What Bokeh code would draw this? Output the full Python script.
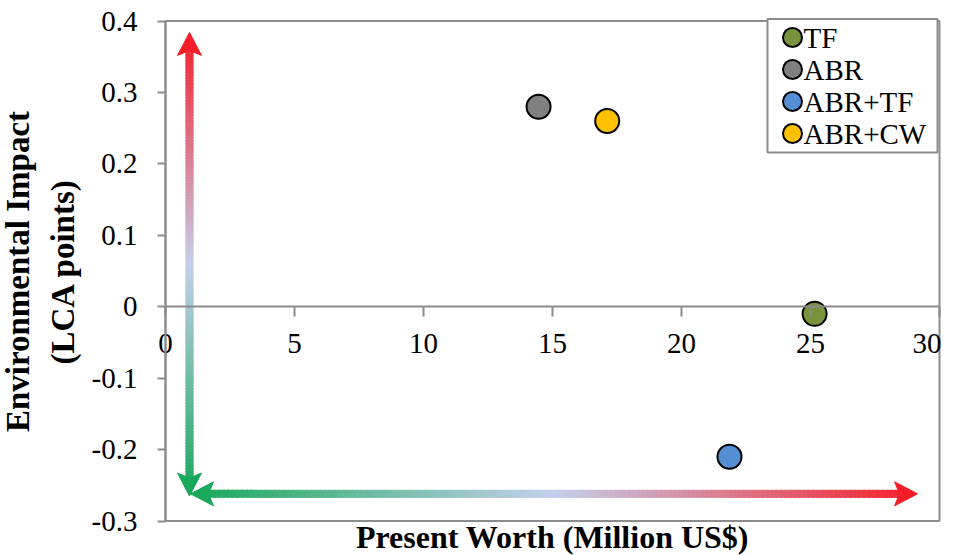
import numpy as np
from bokeh.plotting import figure
from bokeh.models import Range1d, FixedTicker, Label
from bokeh.core.properties import value
from bokeh.embed import file_html
from bokeh.resources import INLINE

# ---- data ----
SERIES = ["TF", "ABR", "ABR+TF", "ABR+CW"]
PRESENT_WORTH = [25.16, 14.46, 21.86, 17.12]
ENV_IMPACT = [-0.01, 0.28, -0.21, 0.26]
COLORS = ["#77933C", "#808080", "#558ED5", "#FFC000"]
X_TICKS = [0, 5, 10, 15, 20, 25, 30]
X_TICK_LABELS = ["0", "5", "10", "15", "20", "25", "30"]
Y_TICKS = [-0.3, -0.2, -0.1, 0, 0.1, 0.2, 0.3, 0.4]
Y_TICK_LABELS = ["-0.3", "-0.2", "-0.1", "0", "0.1", "0.2", "0.3", "0.4"]
X_TITLE = "Present Worth (Million US$)"
Y_TITLE = "Environmental Impact\n(LCA points)"
XMIN, XMAX, YMIN, YMAX = 0, 30, -0.3, 0.4

# ---- layout (pixels) ----
W, H = 941, 555
BOX_L, BOX_R, BOX_T, BOX_B = 165, 939, 20.5, 520.5
XPX = (BOX_R - BOX_L) / (XMAX - XMIN)
YPX = (BOX_B - BOX_T) / (YMAX - YMIN)


def px_x(px):
    return XMIN + (px - BOX_L) / XPX


def px_y(py):
    return YMAX - (py - BOX_T) / YPX


FONT = "Liberation Serif"
AXIS_GREY = "#8c8c8c"

# ---- decoration (gradient arrows, in data units) ----
V_ARROW_X = 0.93
V_ARROW_Y = (-0.265, 0.384)
H_ARROW_Y = -0.262
H_ARROW_X = (0.97, 29.15)
GREEN = (24, 168, 90)
MID = (196, 208, 236)
RED = (245, 30, 40)
HEAD_LEN, HEAD_W, NOTCH = 23, 24, 18
SHAFT_W = 8
N = 150

p = figure(width=W, height=H, output_backend="svg", toolbar_location=None,
           x_range=Range1d(px_x(0), px_x(W)), y_range=Range1d(px_y(H), px_y(0)),
           min_border=0)
p.xgrid.visible = False
p.ygrid.visible = False
p.outline_line_color = None
p.background_fill_color = "white"
p.border_fill_color = "white"

# plot-area box
p.quad(left=[XMIN], right=[XMAX], bottom=[YMIN], top=[YMAX], fill_alpha=0,
       line_color=AXIS_GREY, line_width=2)


def hexc(rgb):
    return "#%02x%02x%02x" % rgb


def lerp_color(t):
    if t < 0.5:
        a, b, u = GREEN, MID, t / 0.5
    else:
        a, b, u = MID, RED, (t - 0.5) / 0.5
    return hexc(tuple(int(round(a[i] + (b[i] - a[i]) * u)) for i in range(3)))


def gradient_arrow(xa, ya, xb, yb):
    # a: green end, b: red end (data coords)
    dxp, dyp = (xb - xa) * XPX, -(yb - ya) * YPX
    L = np.hypot(dxp, dyp)
    ux, uy = dxp / L, dyp / L          # pixel-space unit vector a->b
    # shaft
    ts = np.linspace(NOTCH / L, 1 - NOTCH / L, N + 1)
    step = ts[1] - ts[0]
    t0 = ts[:-1]
    t1 = ts[1:] + step * 0.6
    t1[-1] = ts[-1]
    xs0 = xa + (xb - xa) * t0
    ys0 = ya + (yb - ya) * t0
    xs1 = xa + (xb - xa) * t1
    ys1 = ya + (yb - ya) * t1
    cols = [lerp_color(t) for t in (t0 + step / 2)]
    p.segment(x0=list(xs0), y0=list(ys0), x1=list(xs1), y1=list(ys1),
              line_width=SHAFT_W, line_color=cols, line_cap="butt")
    # heads
    hx, hy = [], []
    for (tx, ty, sx, sy) in ((xb, yb, ux, uy), (xa, ya, -ux, -uy)):
        pts = [(0, 0),
               (-HEAD_LEN * sx + HEAD_W / 2 * -sy, -HEAD_LEN * sy + HEAD_W / 2 * sx),
               (-NOTCH * sx, -NOTCH * sy),
               (-HEAD_LEN * sx - HEAD_W / 2 * -sy, -HEAD_LEN * sy - HEAD_W / 2 * sx)]
        hx.append([tx + ox / XPX for ox, oy in pts])
        hy.append([ty - oy / YPX for ox, oy in pts])
    p.patches(xs=hx, ys=hy, fill_color=[hexc(RED), hexc(GREEN)],
              line_color=[hexc(RED), hexc(GREEN)], line_width=1)


gradient_arrow(V_ARROW_X, V_ARROW_Y[0], V_ARROW_X, V_ARROW_Y[1])
gradient_arrow(H_ARROW_X[0], H_ARROW_Y, H_ARROW_X[1], H_ARROW_Y)

# points
p.scatter(PRESENT_WORTH, ENV_IMPACT, size=24, fill_color=COLORS,
          line_color="black", line_width=2)

# legend (drawn by hand so the markers keep their size)
LEG_L, LEG_R, LEG_T, LEG_B = 767, 937, 18.5, 152
LEG_ROW0, LEG_DY = 37, 32
LEG_MARK_X, LEG_TEXT_X = 792, 803
p.quad(left=[px_x(LEG_L)], right=[px_x(LEG_R)], bottom=[px_y(LEG_B)],
       top=[px_y(LEG_T)], fill_color="white", line_color=AXIS_GREY, line_width=2)
rows_y = [px_y(LEG_ROW0 + i * LEG_DY) for i in range(len(SERIES))]
p.scatter([px_x(LEG_MARK_X)] * len(SERIES), rows_y, size=19,
          fill_color=COLORS, line_color="black", line_width=2)
p.text([px_x(LEG_TEXT_X)] * len(SERIES), rows_y, text=SERIES,
       text_font=value(FONT), text_font_size="29px", text_color="black",
       text_baseline="middle", text_align="left")

# x axis at y = 0
xa = p.xaxis[0]
xa.fixed_location = 0
xa.bounds = (XMIN, XMAX)
xa.ticker = FixedTicker(ticks=X_TICKS)
xa.major_label_overrides = dict(zip(X_TICKS, X_TICK_LABELS))
xa.axis_line_color = AXIS_GREY
xa.axis_line_width = 2
xa.major_tick_line_color = AXIS_GREY
xa.major_tick_line_width = 2
xa.major_tick_in = 0
xa.major_tick_out = 10
xa.minor_tick_line_color = None
xa.major_label_standoff = 17
xa.major_label_text_font = FONT
xa.major_label_text_font_size = "29px"
xa.major_label_text_color = "black"

ya = p.yaxis[0]
ya.fixed_location = 0
ya.bounds = (YMIN, YMAX)
ya.ticker = FixedTicker(ticks=Y_TICKS)
ya.major_label_overrides = dict(zip(Y_TICKS, Y_TICK_LABELS))
ya.axis_line_color = AXIS_GREY
ya.axis_line_width = 2
ya.major_tick_line_color = AXIS_GREY
ya.major_tick_line_width = 2
ya.major_tick_in = 0
ya.major_tick_out = 8
ya.minor_tick_line_color = None
ya.major_label_standoff = 20
ya.major_label_text_font = FONT
ya.major_label_text_font_size = "29px"
ya.major_label_text_color = "black"
ya.axis_label = Y_TITLE
ya.axis_label_text_font = FONT
ya.axis_label_text_font_style = "bold"
ya.axis_label_text_font_size = "33px"
ya.axis_label_text_color = "black"
ya.axis_label_standoff = 8
ya.axis_label_text_line_height = 1.25

p.add_layout(Label(x=(XMIN + XMAX) / 2, y=px_y(536), text=X_TITLE,
                   text_align="center", text_baseline="middle",
                   text_font=FONT, text_font_style="bold",
                   text_font_size="32px", text_color="black"))

open("out.html", "w").write(file_html(p, INLINE))
